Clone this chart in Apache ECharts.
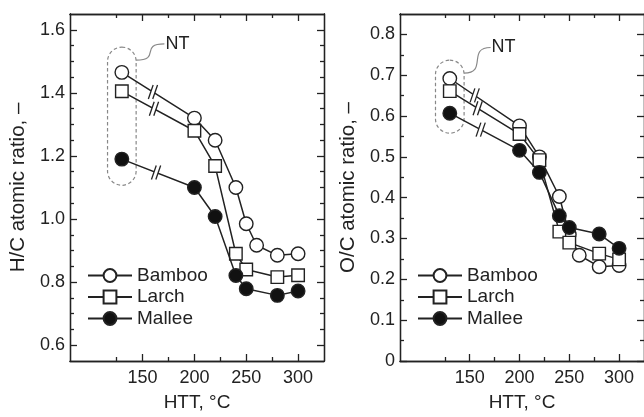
<!DOCTYPE html>
<html>
<head>
<meta charset="utf-8">
<script src="https://cdn.jsdelivr.net/npm/echarts@6/dist/echarts.min.js"></script>
<style>
html,body{margin:0;padding:0;background:#fff;}
#main{width:644px;height:417px;}
</style>
</head>
<body>
<div id="main"></div>
<script>
// heat treatment temperature, NT (untreated) plotted at 130
var htt = [130, 200, 220, 240, 250, 260, 280, 300];

// H/C atomic ratio
var hcBamboo = [1.465, 1.32, 1.25, 1.10, 0.985, 0.917, 0.885, 0.89];
var hcLarch  = [1.405, 1.28, 1.168, 0.89, 0.84, null, 0.816, 0.822];
var hcMallee = [1.19, 1.10, 1.008, 0.821, 0.779, null, 0.758, 0.772];

// O/C atomic ratio
var ocBamboo = [0.692, 0.576, 0.50, 0.403, 0.31, 0.259, 0.231, 0.234];
var ocLarch  = [0.661, 0.556, 0.492, 0.317, 0.29, null, 0.263, 0.249];
var ocMallee = [0.607, 0.516, 0.462, 0.356, 0.327, null, 0.311, 0.276];

var names = ['Bamboo', 'Larch', 'Mallee'];

// where the "//" break marks sit on the NT -> 200 segment
var hcBreakX = [160, 161, 163];
var ocBreakX = [155, 158, 161];

// NT dashed box [x, low, high, labelX, labelY]
var hcNT = [130, 1.107, 1.545, 172, 1.555];
var ocNT = [130, 0.558, 0.737, 172, 0.768];

// ticks
var httMajor = [150, 200, 250, 300];
var httMinor = [125, 175, 225, 275];
var hcMajor = [0.6, 0.8, 1.0, 1.2, 1.4, 1.6];
var hcMinor = [0.65, 0.7, 0.75, 0.85, 0.9, 0.95, 1.05, 1.1, 1.15, 1.25, 1.3, 1.35, 1.45, 1.5, 1.55];
var ocMajor = [0, 0.1, 0.2, 0.3, 0.4, 0.5, 0.6, 0.7, 0.8];
var ocMinor = [0.05, 0.15, 0.25, 0.35, 0.45, 0.55, 0.65, 0.75];

var FONT = '"Liberation Sans", Arial, Helvetica, sans-serif';
var INK = '#222';

function pairs(ys) {
    var out = [];
    for (var i = 0; i < htt.length; i++) {
        if (ys[i] != null) out.push([htt[i], ys[i]]);
    }
    return out;
}

function breakPoints(list, xs) {
    // position the mark on the segment between NT and 200
    var pts = [];
    for (var i = 0; i < list.length; i++) {
        var y0 = list[i][0], y1 = list[i][1];
        var x = xs[i];
        pts.push([x, y0 + (x - htt[0]) / (htt[1] - htt[0]) * (y1 - y0)]);
    }
    return pts;
}

function tickAxis(gi, pos, min, max, vals, len, extra) {
    var a = {
        gridIndex: gi, type: 'value', position: pos, min: min, max: max,
        axisLine: {show: true, onZero: false, lineStyle: {color: INK, width: 1.3}},
        axisTick: {show: true, inside: true, length: len, customValues: vals, lineStyle: {color: INK, width: 1.3}},
        axisLabel: {show: false},
        splitLine: {show: false}
    };
    for (var k in extra) a[k] = extra[k];
    return a;
}

function xAxes(gi) {
    return [
        tickAxis(gi, 'bottom', 80, 325, httMajor, 7, {
            axisLabel: {show: true, customValues: httMajor, margin: 8, fontSize: 18, fontFamily: FONT, color: INK},
            name: 'HTT, °C', nameLocation: 'middle', nameGap: 32,
            nameTextStyle: {fontSize: 19, fontFamily: FONT, color: INK}
        }),
        tickAxis(gi, 'bottom', 80, 325, httMinor, 4, {}),
        tickAxis(gi, 'top', 80, 325, httMajor, 7, {}),
        tickAxis(gi, 'top', 80, 325, httMinor, 4, {})
    ];
}

function yAxes(gi, min, max, major, minor, title) {
    return [
        tickAxis(gi, 'left', min, max, major, 7, {
            axisLabel: {
                show: true, customValues: major, margin: 5, fontSize: 18, fontFamily: FONT, color: INK,
                formatter: function (v) { return v === 0 ? '0' : v.toFixed(1); }
            },
            name: title, nameLocation: 'middle', nameGap: 41,
            nameTextStyle: {fontSize: 20.5, fontFamily: FONT, color: INK}
        }),
        tickAxis(gi, 'left', min, max, minor, 4, {}),
        tickAxis(gi, 'right', min, max, major, 7, {}),
        tickAxis(gi, 'right', min, max, minor, 4, {})
    ];
}

var styles = [
    {symbol: 'circle', fill: '#fff'},
    {symbol: 'rect', fill: '#fff'},
    {symbol: 'circle', fill: '#111'}
];

function lineSeries(ax, list) {
    var out = [];
    for (var i = 0; i < list.length; i++) {
        out.push({
            name: names[i], type: 'line', xAxisIndex: ax, yAxisIndex: ax,
            data: pairs(list[i]),
            symbol: styles[i].symbol, symbolSize: styles[i].symbol === 'rect' ? 12.5 : 13.5,
            showAllSymbol: true, animation: false, z: 3 + i,
            lineStyle: {color: INK, width: 1.5},
            itemStyle: {color: styles[i].fill, borderColor: INK, borderWidth: 1.4, opacity: 1}
        });
    }
    return out;
}

function breakSeries(ax, pts) {
    return {
        type: 'custom', xAxisIndex: ax, yAxisIndex: ax, z: 10, silent: true, animation: false,
        data: pts,
        renderItem: function (params, api) {
            var p = api.coord([api.value(0), api.value(1)]);
            var dx = 2.4, dy = 7, s = 2.2;
            var a = [p[0] - s - dx, p[1] + dy], b = [p[0] - s + dx, p[1] - dy];
            var c = [p[0] + s + dx, p[1] - dy], d = [p[0] + s - dx, p[1] + dy];
            return {
                type: 'group', children: [
                    {type: 'polygon', shape: {points: [a, b, c, d]}, style: {fill: '#fff'}},
                    {type: 'line', shape: {x1: a[0], y1: a[1], x2: b[0], y2: b[1]}, style: {stroke: INK, lineWidth: 1.3}},
                    {type: 'line', shape: {x1: d[0], y1: d[1], x2: c[0], y2: c[1]}, style: {stroke: INK, lineWidth: 1.3}}
                ]
            };
        }
    };
}

function ntSeries(ax, nt) {
    return {
        type: 'custom', xAxisIndex: ax, yAxisIndex: ax, z: 1, silent: true, animation: false,
        data: [nt],
        renderItem: function (params, api) {
            var top = api.coord([api.value(0), api.value(2)]);
            var bot = api.coord([api.value(0), api.value(1)]);
            var lab = api.coord([api.value(3), api.value(4)]);
            var hw = 14.3;
            var sx = top[0] + hw, sy = top[1] + 13;
            var ex = lab[0] - 1, ey = lab[1];
            return {
                type: 'group', children: [
                    {type: 'rect', shape: {x: top[0] - hw, y: top[1], width: 2 * hw, height: bot[1] - top[1], r: hw},
                        style: {fill: null, stroke: '#888', lineWidth: 1.2, lineDash: [3.5, 2.5]}},
                    {type: 'bezierCurve', shape: {x1: sx, y1: sy, x2: ex, y2: ey,
                        cpx1: sx + (ex - sx) * 0.9, cpy1: sy, cpx2: sx + (ex - sx) * 0.1, cpy2: ey},
                        style: {fill: null, stroke: '#888', lineWidth: 1.2}},
                    {type: 'text', x: lab[0], y: lab[1],
                        style: {text: 'NT', fontSize: 18, fontFamily: FONT, fill: INK, align: 'left', verticalAlign: 'middle'}}
                ]
            };
        }
    };
}

function legendAt(left) {
    return {
        orient: 'vertical', left: left, top: 261, itemWidth: 44, itemHeight: 16, itemGap: 2.5,
        selectedMode: false,
        textStyle: {fontSize: 19, fontFamily: FONT, color: INK},
        data: names
    };
}

var hcList = [hcBamboo, hcLarch, hcMallee];
var ocList = [ocBamboo, ocLarch, ocMallee];

var myChart = echarts.init(document.getElementById('main'), null, {renderer: 'canvas'});
var option = {
    backgroundColor: '#fff',
    animation: false,
    grid: [
        {left: 70, top: 14, width: 254, height: 351},
        {left: 400, top: 14, width: 254, height: 351}
    ],
    legend: [legendAt(82), legendAt(412)],
    xAxis: xAxes(0).concat(xAxes(1)),
    yAxis: yAxes(0, 0.55, 1.65, hcMajor, hcMinor, 'H/C atomic ratio, \u2013')
        .concat(yAxes(1, 0, 0.85, ocMajor, ocMinor, 'O/C atomic ratio, \u2013')),
    series: [].concat(
        [ntSeries(0, hcNT), ntSeries(4, ocNT)],
        lineSeries(0, hcList),
        lineSeries(4, ocList),
        [breakSeries(0, breakPoints(hcList, hcBreakX)), breakSeries(4, breakPoints(ocList, ocBreakX))]
    )
};
myChart.setOption(option);
</script>
</body>
</html>
